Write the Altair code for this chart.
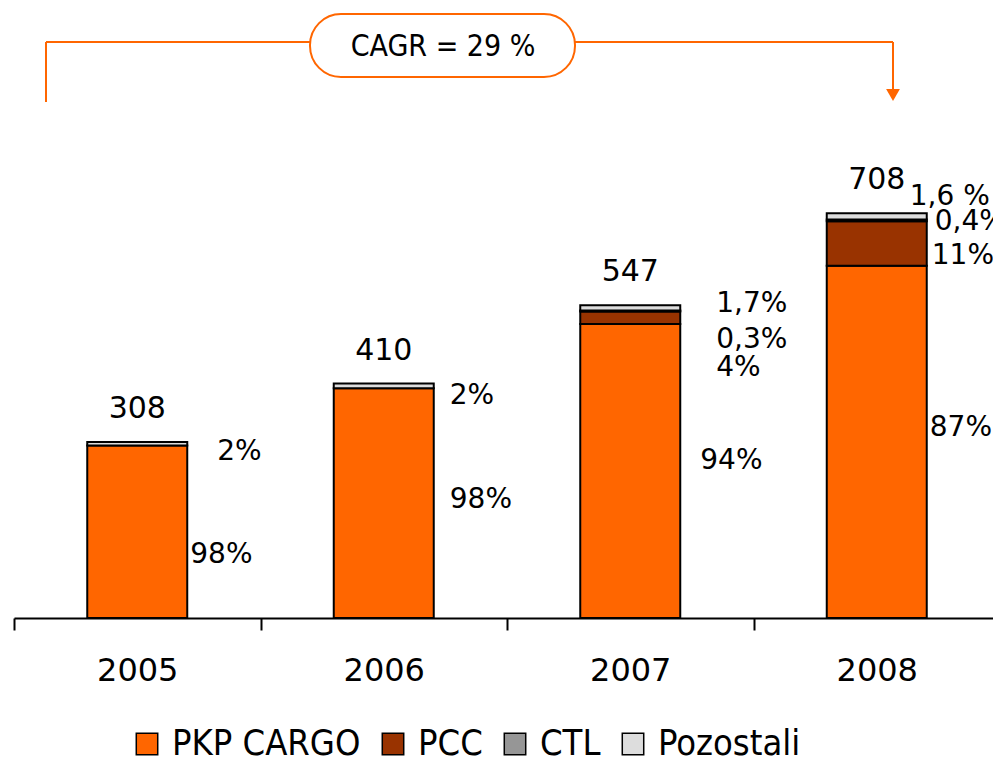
import altair as alt
import pandas as pd

# ---- data ----
years = ["2005", "2006", "2007", "2008"]
totals = [308, 410, 547, 708]
series = ["PKP CARGO", "PCC", "CTL", "Pozostali"]
pkp_share = [98, 98, 94, 87]
pcc_share = [0, 0, 4, 11]
ctl_share = [0, 0, 0.3, 0.4]
poz_share = [2, 2, 1.7, 1.6]
share_text = {
    "PKP CARGO": ["98%", "98%", "94%", "87%"],
    "PCC": ["", "", "4%", "11%"],
    "CTL": ["", "", "0,3%", "0,4%"],
    "Pozostali": ["2%", "2%", "1,7%", "1,6 %"],
}
colors = ["#FF6600", "#993300", "#969696", "#DDDDDD"]

# ---- label nudges (pixels) ----
nudge = {
    ("2005", "PKP CARGO"): (53, 23), ("2005", "Pozostali"): (80, 8),
    ("2006", "PKP CARGO"): (66, -3), ("2006", "Pozostali"): (66, 10),
    ("2007", "PKP CARGO"): (70, -10), ("2007", "PCC"): (86, 50),
    ("2007", "CTL"): (86, 29), ("2007", "Pozostali"): (86, -4),
    ("2008", "PKP CARGO"): (53, -14), ("2008", "PCC"): (55, 12),
    ("2008", "CTL"): (58, 2), ("2008", "Pozostali"): (33, -19),
}

shares = {"PKP CARGO": pkp_share, "PCC": pcc_share, "CTL": ctl_share, "Pozostali": poz_share}
rows = []
for i, y in enumerate(years):
    cum = 0.0
    for k, s in enumerate(series):
        v = totals[i] * shares[s][i] / 100.0
        if v > 0:
            rows.append({"year": y, "series": s, "ord": k, "value": v,
                         "mid": cum + v / 2, "label": share_text[s][i]})
        cum += v
df = pd.DataFrame(rows)
tot_df = pd.DataFrame({"year": years, "total": totals})

NUM_FONT = "DejaVu Sans"
COND_FONT = "Liberation Sans Narrow, DejaVu Sans Condensed, sans-serif"
yscale = alt.Scale(domain=[0, 1058], nice=False, zero=True)
xscale = alt.Scale(paddingInner=0, paddingOuter=0, range=[0, 986])

bars = alt.Chart(df).mark_bar(size=100, stroke="black", strokeWidth=2).encode(
    x=alt.X("year:N", sort=years, scale=xscale,
            axis=alt.Axis(title=None, labelAngle=0, tickBand="extent", tickSize=12,
                          tickWidth=2, tickColor="black", domainColor="black",
                          domainWidth=2, labelFontSize=32, labelFont=NUM_FONT,
                          labelColor="black", labelPadding=25, grid=False)),
    y=alt.Y("value:Q", stack="zero", scale=yscale, axis=None),
    color=alt.Color("series:N", scale=alt.Scale(domain=series, range=colors),
                    legend=alt.Legend(title=None, orient="none", direction="horizontal",
                                      legendX=115, legendY=713, symbolType="square",
                                      symbolSize=460, symbolStrokeColor="black",
                                      symbolStrokeWidth=1.5, symbolOpacity=1,
                                      labelFontSize=36, labelFont=COND_FONT,
                                      labelColor="black", columnPadding=14,
                                      labelOffset=7, labelLimit=0)),
    order=alt.Order("ord:Q"),
)

tot_text = alt.Chart(tot_df).mark_text(dy=-33, baseline="middle", fontSize=30,
                                       font=NUM_FONT, color="black").encode(
    x=alt.X("year:N", sort=years, scale=xscale),
    y=alt.Y("total:Q", scale=yscale),
    text="total:Q",
)

layers = [bars, tot_text]
for r in rows:
    dx, dy = nudge[(r["year"], r["series"])]
    layers.append(
        alt.Chart(pd.DataFrame([r])).mark_text(align="left", baseline="middle", dx=dx, dy=dy,
                                               fontSize=28, font=NUM_FONT, color="black").encode(
            x=alt.X("year:N", sort=years, scale=xscale),
            y=alt.Y("mid:Q", scale=yscale),
            text="label:N",
        )
    )

# ---- CAGR bracket annotation ----
one = pd.DataFrame({"a": [0]})
OR = "#FF6600"
ann = [
    alt.Chart(one).mark_rule(color=OR, strokeWidth=2).encode(
        x=alt.value(32), y=alt.value(29), y2=alt.value(89)),
    alt.Chart(one).mark_rule(color=OR, strokeWidth=2).encode(
        x=alt.value(32), x2=alt.value(297), y=alt.value(29)),
    alt.Chart(one).mark_rule(color=OR, strokeWidth=2).encode(
        x=alt.value(561), x2=alt.value(879), y=alt.value(29)),
    alt.Chart(one).mark_rule(color=OR, strokeWidth=2).encode(
        x=alt.value(879), y=alt.value(29), y2=alt.value(78)),
    alt.Chart(one).mark_point(shape="triangle-down", filled=True, color=OR, size=190, opacity=1).encode(
        x=alt.value(879), y=alt.value(82)),
    alt.Chart(one).mark_rect(cornerRadius=31, fill="white", stroke=OR, strokeWidth=2).encode(
        x=alt.value(296), x2=alt.value(561), y=alt.value(1), y2=alt.value(64)),
    alt.Chart(one).mark_text(fontSize=30, font=COND_FONT, color="black", baseline="middle").encode(
        x=alt.value(429), y=alt.value(34), text=alt.value("CAGR = 29 %")),
]

chart = alt.layer(*layers, *ann).properties(
    width=979, height=605,
    padding={"left": 6, "top": 5, "right": 0, "bottom": 140},
    autosize=alt.AutoSizeParams(type="none"),
).configure_view(stroke=None)

chart.save("out.html", embed_options={"renderer": "svg", "actions": False})
